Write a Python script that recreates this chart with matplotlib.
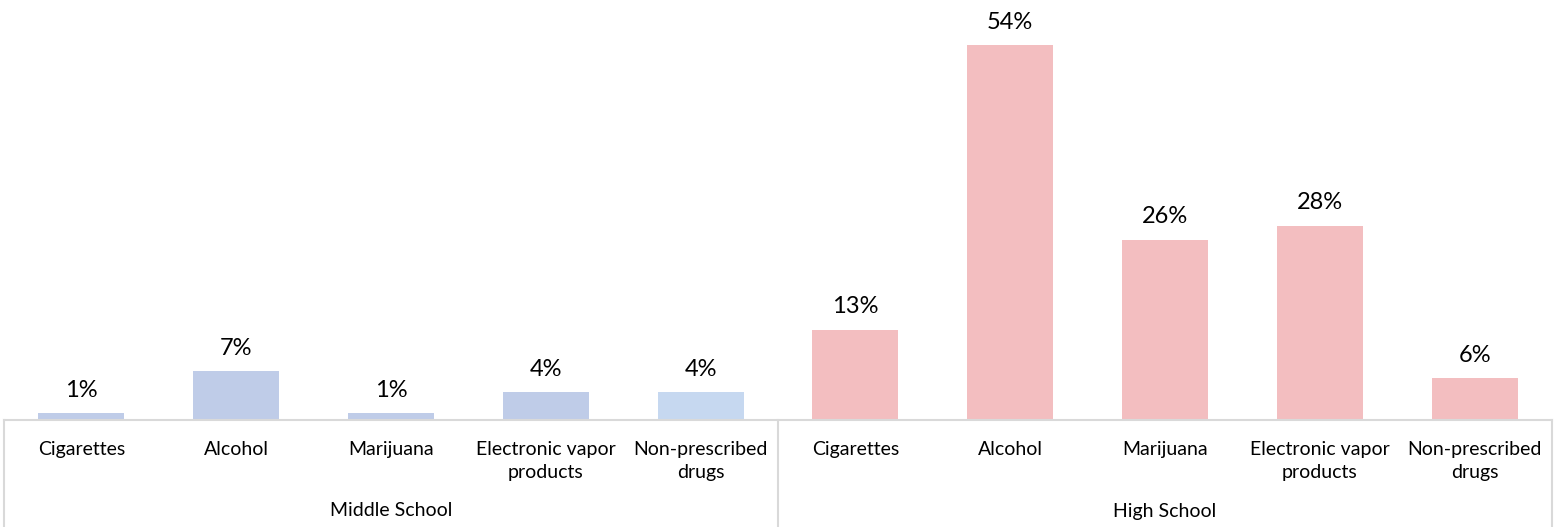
import matplotlib
matplotlib.use("Agg")
import matplotlib.pyplot as plt
import matplotlib.transforms as mtransforms
from matplotlib.lines import Line2D

groups = ["Middle School", "High School"]
substances = ["Cigarettes", "Alcohol", "Marijuana", "Electronic vapor\nproducts",
              "Non-prescribed\ndrugs"]
middle_school = [1, 7, 1, 4, 4]
high_school = [13, 54, 26, 28, 6]

middle_colors = ["#BFCCE8", "#BFCCE8", "#BFCCE8", "#BFCCE8", "#C6D8F0"]
high_color = "#F3BEC0"
grid_color = "#D9D9D9"

W, H = 1562, 527
fig = plt.figure(figsize=(W / 100, H / 100), dpi=100)
left_px, right_px, base_px = 4, 1552, 420
ax = fig.add_axes([left_px / W, (H - base_px) / H, (right_px - left_px) / W, base_px / H])

values = middle_school + high_school
colors = middle_colors + [high_color] * len(high_school)
x = list(range(len(values)))
ax.bar(x, values, width=0.555, color=colors, zorder=2)
ax.set_xlim(-0.5, len(values) - 0.5)
ax.set_ylim(0, 60.5)

font = "Lato"
for xi, v in zip(x, values):
    ax.annotate(f"{v}%", (xi, v), xytext=(0, 9), textcoords="offset points",
                ha="center", va="bottom", fontsize=17, family=font, color="#000000")

for s in ["top", "left", "right"]:
    ax.spines[s].set_visible(False)
ax.spines["bottom"].set_color(grid_color)
ax.spines["bottom"].set_linewidth(1.5)
ax.set_xticks([])
ax.set_yticks([])

# category and group labels below the axis
trans = mtransforms.blended_transform_factory(ax.transData, fig.transFigure)
labels = substances + substances
for xi, lab in zip(x, labels):
    ax.text(xi, 1 - 441 / H, lab, transform=trans, ha="center", va="top",
            fontsize=14, family=font, linespacing=1.4)
n = len(substances)
for gi, g in enumerate(groups):
    ax.text(gi * n + (n - 1) / 2, 1 - 511 / H, g, transform=trans, ha="center",
            va="center", fontsize=14, family=font)

# group separators
for xb in [-0.5, n - 0.5, 2 * n - 0.5]:
    fig.add_artist(Line2D([xb, xb], [1 - base_px / H, 0], transform=trans,
                          color=grid_color, lw=1.5))

fig.savefig("out.png", dpi=100, facecolor="white")
